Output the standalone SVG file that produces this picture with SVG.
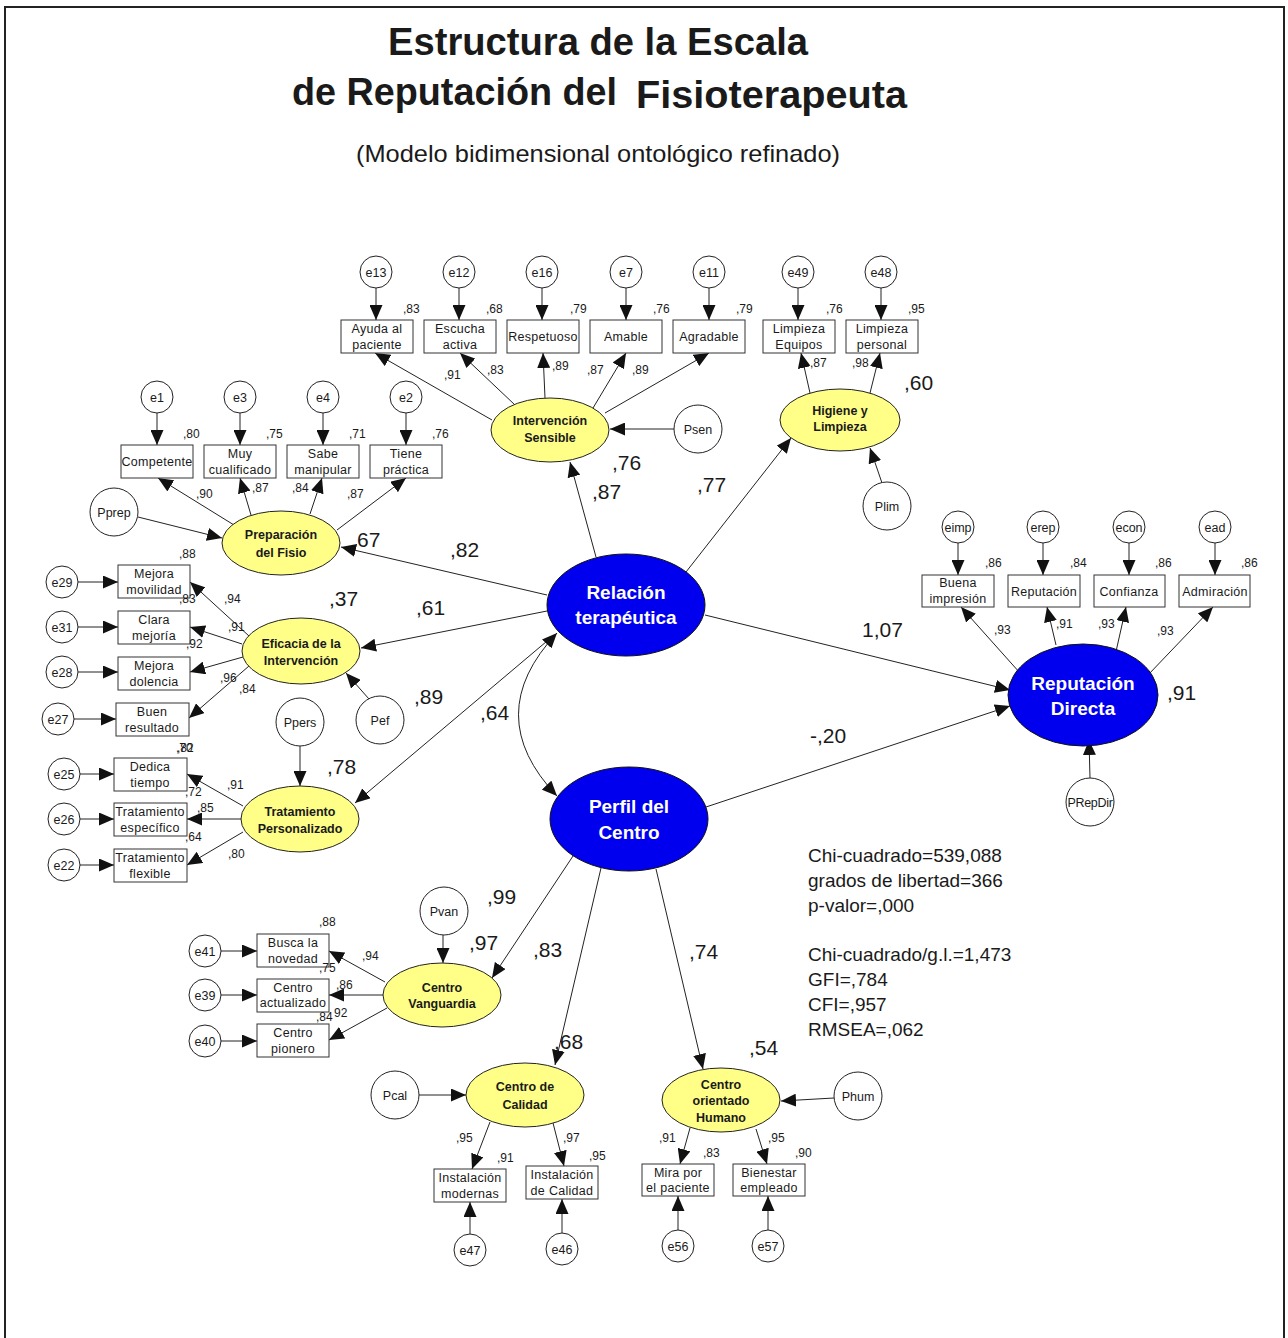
<svg xmlns="http://www.w3.org/2000/svg" width="1288" height="1338" viewBox="0 0 1288 1338">
<style>
  text { font-family: "Liberation Sans", Arial, sans-serif; fill: #1a1a1a; }
  .title { font-size: 38px; font-weight: bold; }
  .sub { font-size: 24px; }
  .box { fill: #fff; stroke: #333; stroke-width: 1; }
  .bt { font-size: 12.5px; text-anchor: middle; letter-spacing: 0.3px; }
  .err { fill: #fff; stroke: #222; stroke-width: 1; }
  .et { font-size: 12.5px; text-anchor: middle; }
  .lat { fill: #ffff88; stroke: #222; stroke-width: 1; }
  .lt { font-size: 12.5px; font-weight: bold; text-anchor: middle; }
  .blue { fill: #0000ee; stroke: #111; stroke-width: 1; }
  .wt { font-size: 19px; font-weight: bold; text-anchor: middle; fill: #fff; }
  .c { font-size: 12px; }
  .big { font-size: 21px; }
  .fit { font-size: 19px; }
  .ln { stroke: #222; stroke-width: 1; fill: none; marker-end: url(#ah); }
</style>
<defs>
  <marker id="ah" markerUnits="userSpaceOnUse" markerWidth="15" markerHeight="13" refX="15" refY="6.5" orient="auto-start-reverse">
    <path d="M0,0 L15,6.5 L0,13 z" fill="#111"/>
  </marker>
</defs>
<rect x="0" y="0" width="1288" height="1338" fill="#fff"/>
<!-- frame -->
<path d="M5,1338 V7 H1284 V1338" fill="none" stroke="#222" stroke-width="2"/>

<!-- headings -->
<text class="title" x="388" y="55" textLength="420" lengthAdjust="spacingAndGlyphs">Estructura de la Escala</text>
<text class="title" x="292" y="105" textLength="325" lengthAdjust="spacingAndGlyphs">de Reputación del</text>
<text class="title" x="636" y="108" textLength="271" lengthAdjust="spacingAndGlyphs">Fisioterapeuta</text>
<text class="sub" x="356" y="162" textLength="484" lengthAdjust="spacingAndGlyphs">(Modelo bidimensional ontológico refinado)</text>

<!-- connectors -->
<g id="connectors">
  <!-- structural paths -->
  <line class="ln" x1="547" y1="595" x2="341" y2="547"/>
  <line class="ln" x1="596" y1="557" x2="570" y2="462"/>
  <line class="ln" x1="686" y1="572" x2="791" y2="438"/>
  <line class="ln" x1="547" y1="611" x2="361" y2="648"/>
  <line class="ln" x1="553" y1="636" x2="355" y2="803"/>
  <line class="ln" x1="705" y1="615" x2="1010" y2="690"/>
  <line class="ln" x1="706" y1="807" x2="1010" y2="706"/>
  <line class="ln" x1="575" y1="853" x2="492" y2="978"/>
  <line class="ln" x1="601" y1="868" x2="555" y2="1065"/>
  <line class="ln" x1="656" y1="869" x2="703" y2="1069"/>
  <path class="ln" d="M557,633 Q480,715 557,796" marker-start="url(#ah)"/>

  <!-- Intervención Sensible -->
  <line class="ln" x1="492" y1="420" x2="375" y2="353"/>
  <line class="ln" x1="515" y1="405" x2="460" y2="353"/>
  <line class="ln" x1="545" y1="398" x2="543" y2="353"/>
  <line class="ln" x1="593" y1="408" x2="626" y2="353"/>
  <line class="ln" x1="605" y1="413" x2="709" y2="353"/>
  <line class="ln" x1="674" y1="429" x2="610" y2="429"/>
  <line class="ln" x1="376" y1="288" x2="376" y2="320"/>
  <line class="ln" x1="459" y1="288" x2="459" y2="320"/>
  <line class="ln" x1="542" y1="288" x2="542" y2="320"/>
  <line class="ln" x1="626" y1="288" x2="626" y2="320"/>
  <line class="ln" x1="709" y1="288" x2="709" y2="320"/>

  <!-- Higiene y Limpieza -->
  <line class="ln" x1="810" y1="393" x2="801" y2="353"/>
  <line class="ln" x1="870" y1="393" x2="880" y2="353"/>
  <line class="ln" x1="882" y1="483" x2="870" y2="448"/>
  <line class="ln" x1="798" y1="288" x2="798" y2="320"/>
  <line class="ln" x1="881" y1="288" x2="881" y2="320"/>

  <!-- Preparación del Fisio -->
  <line class="ln" x1="234" y1="525" x2="158" y2="478"/>
  <line class="ln" x1="251" y1="515" x2="240" y2="478"/>
  <line class="ln" x1="310" y1="514" x2="322" y2="478"/>
  <line class="ln" x1="337" y1="530" x2="406" y2="478"/>
  <line class="ln" x1="138" y1="517" x2="222" y2="538"/>
  <line class="ln" x1="157" y1="413" x2="157" y2="445"/>
  <line class="ln" x1="240" y1="413" x2="240" y2="445"/>
  <line class="ln" x1="323" y1="413" x2="323" y2="445"/>
  <line class="ln" x1="406" y1="413" x2="406" y2="445"/>

  <!-- Eficacia de la Intervención -->
  <line class="ln" x1="249" y1="636" x2="190" y2="582"/>
  <line class="ln" x1="242" y1="644" x2="190" y2="627"/>
  <line class="ln" x1="243" y1="657" x2="190" y2="672"/>
  <line class="ln" x1="249" y1="666" x2="189" y2="718"/>
  <line class="ln" x1="369" y1="699" x2="346" y2="673"/>
  <line class="ln" x1="78" y1="582" x2="118" y2="582"/>
  <line class="ln" x1="78" y1="627" x2="118" y2="627"/>
  <line class="ln" x1="78" y1="672" x2="118" y2="672"/>
  <line class="ln" x1="74" y1="719" x2="116" y2="719"/>

  <!-- Tratamiento Personalizado -->
  <line class="ln" x1="243" y1="806" x2="187" y2="774"/>
  <line class="ln" x1="241" y1="819" x2="187" y2="819"/>
  <line class="ln" x1="243" y1="832" x2="187" y2="865"/>
  <line class="ln" x1="300" y1="746" x2="300" y2="786"/>
  <line class="ln" x1="80" y1="774" x2="114" y2="774"/>
  <line class="ln" x1="80" y1="819" x2="114" y2="819"/>
  <line class="ln" x1="80" y1="865" x2="114" y2="865"/>

  <!-- Centro Vanguardia -->
  <line class="ln" x1="385" y1="982" x2="329" y2="951"/>
  <line class="ln" x1="383" y1="995" x2="329" y2="995"/>
  <line class="ln" x1="387" y1="1008" x2="329" y2="1040"/>
  <line class="ln" x1="443" y1="935" x2="443" y2="963"/>
  <line class="ln" x1="221" y1="951" x2="257" y2="951"/>
  <line class="ln" x1="221" y1="995" x2="257" y2="995"/>
  <line class="ln" x1="221" y1="1041" x2="257" y2="1041"/>

  <!-- Centro de Calidad -->
  <line class="ln" x1="419" y1="1095" x2="466" y2="1095"/>
  <line class="ln" x1="490" y1="1122" x2="472" y2="1169"/>
  <line class="ln" x1="553" y1="1123" x2="564" y2="1166"/>
  <line class="ln" x1="470" y1="1234" x2="470" y2="1202"/>
  <line class="ln" x1="562" y1="1233" x2="562" y2="1199"/>

  <!-- Centro orientado Humano -->
  <line class="ln" x1="834" y1="1098" x2="781" y2="1101"/>
  <line class="ln" x1="690" y1="1128" x2="680" y2="1164"/>
  <line class="ln" x1="756" y1="1129" x2="767" y2="1164"/>
  <line class="ln" x1="678" y1="1230" x2="678" y2="1196"/>
  <line class="ln" x1="768" y1="1230" x2="768" y2="1196"/>

  <!-- Reputación Directa -->
  <line class="ln" x1="1020" y1="673" x2="961" y2="607"/>
  <line class="ln" x1="1056" y1="645" x2="1047" y2="607"/>
  <line class="ln" x1="1115" y1="656" x2="1126" y2="607"/>
  <line class="ln" x1="1148" y1="675" x2="1213" y2="607"/>
  <line class="ln" x1="1090" y1="778" x2="1089" y2="740"/>
  <line class="ln" x1="958" y1="543" x2="958" y2="575"/>
  <line class="ln" x1="1043" y1="543" x2="1043" y2="575"/>
  <line class="ln" x1="1129" y1="543" x2="1129" y2="575"/>
  <line class="ln" x1="1215" y1="543" x2="1215" y2="575"/>
</g>

<!-- Intervención Sensible block -->
<g id="e13"><circle class="err" cx="376" cy="272" r="16"/><text class="et" x="376" y="277">e13</text></g>
<g id="e12"><circle class="err" cx="459" cy="272" r="16"/><text class="et" x="459" y="277">e12</text></g>
<g id="e16"><circle class="err" cx="542" cy="272" r="16"/><text class="et" x="542" y="277">e16</text></g>
<g id="e7"><circle class="err" cx="626" cy="272" r="16"/><text class="et" x="626" y="277">e7</text></g>
<g id="e11"><circle class="err" cx="709" cy="272" r="16"/><text class="et" x="709" y="277">e11</text></g>
<g id="ayuda"><rect class="box" x="341" y="320" width="72" height="33"/><text class="bt" x="377" y="333">Ayuda al</text><text class="bt" x="377" y="349">paciente</text></g>
<g id="escucha"><rect class="box" x="424" y="320" width="72" height="33"/><text class="bt" x="460" y="333">Escucha</text><text class="bt" x="460" y="349">activa</text></g>
<g id="respetuoso"><rect class="box" x="507" y="320" width="72" height="33"/><text class="bt" x="543" y="341" letter-spacing="0">Respetuoso</text></g>
<g id="amable"><rect class="box" x="590" y="320" width="72" height="33"/><text class="bt" x="626" y="341">Amable</text></g>
<g id="agradable"><rect class="box" x="673" y="320" width="72" height="33"/><text class="bt" x="709" y="341">Agradable</text></g>
<g id="intervencion"><ellipse class="lat" cx="550" cy="430" rx="59" ry="32"/><text class="lt" x="550" y="425">Intervención</text><text class="lt" x="550" y="442">Sensible</text></g>
<g id="psen"><circle class="err" cx="698" cy="429" r="24"/><text class="et" x="698" y="434">Psen</text></g>

<!-- Higiene y Limpieza block -->
<g id="e49"><circle class="err" cx="798" cy="272" r="16"/><text class="et" x="798" y="277">e49</text></g>
<g id="e48"><circle class="err" cx="881" cy="272" r="16"/><text class="et" x="881" y="277">e48</text></g>
<g id="limp-equipos"><rect class="box" x="763" y="320" width="72" height="33"/><text class="bt" x="799" y="333">Limpieza</text><text class="bt" x="799" y="349">Equipos</text></g>
<g id="limp-personal"><rect class="box" x="846" y="320" width="72" height="33"/><text class="bt" x="882" y="333">Limpieza</text><text class="bt" x="882" y="349">personal</text></g>
<g id="higiene"><ellipse class="lat" cx="840" cy="420" rx="60" ry="31"/><text class="lt" x="840" y="415">Higiene y</text><text class="lt" x="840" y="431">Limpieza</text></g>
<g id="plim"><circle class="err" cx="887" cy="506" r="24"/><text class="et" x="887" y="511">Plim</text></g>

<!-- Preparación del Fisio block -->
<g id="e1"><circle class="err" cx="157" cy="397" r="16"/><text class="et" x="157" y="402">e1</text></g>
<g id="e3"><circle class="err" cx="240" cy="397" r="16"/><text class="et" x="240" y="402">e3</text></g>
<g id="e4"><circle class="err" cx="323" cy="397" r="16"/><text class="et" x="323" y="402">e4</text></g>
<g id="e2"><circle class="err" cx="406" cy="397" r="16"/><text class="et" x="406" y="402">e2</text></g>
<g id="competente"><rect class="box" x="121" y="445" width="72" height="33"/><text class="bt" x="157" y="466" letter-spacing="0">Competente</text></g>
<g id="cualificado"><rect class="box" x="204" y="445" width="72" height="33"/><text class="bt" x="240" y="458">Muy</text><text class="bt" x="240" y="474" letter-spacing="0">cualificado</text></g>
<g id="manipular"><rect class="box" x="287" y="445" width="72" height="33"/><text class="bt" x="323" y="458">Sabe</text><text class="bt" x="323" y="474">manipular</text></g>
<g id="practica"><rect class="box" x="370" y="445" width="72" height="33"/><text class="bt" x="406" y="458">Tiene</text><text class="bt" x="406" y="474">práctica</text></g>
<g id="preparacion"><ellipse class="lat" cx="281" cy="543" rx="59" ry="32"/><text class="lt" x="281" y="539">Preparación</text><text class="lt" x="281" y="557">del Fisio</text></g>
<g id="pprep"><circle class="err" cx="114" cy="512" r="24"/><text class="et" x="114" y="517">Pprep</text></g>

<!-- Eficacia de la Intervención block -->
<g id="e29"><circle class="err" cx="62" cy="582" r="16"/><text class="et" x="62" y="587">e29</text></g>
<g id="e31"><circle class="err" cx="62" cy="627" r="16"/><text class="et" x="62" y="632">e31</text></g>
<g id="e28"><circle class="err" cx="62" cy="672" r="16"/><text class="et" x="62" y="677">e28</text></g>
<g id="e27"><circle class="err" cx="58" cy="719" r="16"/><text class="et" x="58" y="724">e27</text></g>
<g id="movilidad"><rect class="box" x="118" y="565" width="72" height="33"/><text class="bt" x="154" y="578">Mejora</text><text class="bt" x="154" y="594" letter-spacing="0">movilidad</text></g>
<g id="mejoria"><rect class="box" x="118" y="611" width="72" height="33"/><text class="bt" x="154" y="624">Clara</text><text class="bt" x="154" y="640">mejoría</text></g>
<g id="dolencia"><rect class="box" x="118" y="657" width="72" height="33"/><text class="bt" x="154" y="670">Mejora</text><text class="bt" x="154" y="686">dolencia</text></g>
<g id="resultado"><rect class="box" x="116" y="703" width="73" height="33"/><text class="bt" x="152" y="716">Buen</text><text class="bt" x="152" y="732">resultado</text></g>
<g id="eficacia"><ellipse class="lat" cx="301" cy="651" rx="59" ry="33"/><text class="lt" x="301" y="648">Eficacia de la</text><text class="lt" x="301" y="665">Intervención</text></g>
<g id="pef"><circle class="err" cx="380" cy="720" r="24"/><text class="et" x="380" y="725">Pef</text></g>

<!-- Tratamiento Personalizado block -->
<g id="e25"><circle class="err" cx="64" cy="774" r="16"/><text class="et" x="64" y="779">e25</text></g>
<g id="e26"><circle class="err" cx="64" cy="819" r="16"/><text class="et" x="64" y="824">e26</text></g>
<g id="e22"><circle class="err" cx="64" cy="865" r="16"/><text class="et" x="64" y="870">e22</text></g>
<g id="tiempo"><rect class="box" x="114" y="758" width="73" height="33"/><text class="bt" x="150" y="771">Dedica</text><text class="bt" x="150" y="787">tiempo</text></g>
<g id="especifico"><rect class="box" x="114" y="803" width="73" height="33"/><text class="bt" x="150" y="816" letter-spacing="0">Tratamiento</text><text class="bt" x="150" y="832" letter-spacing="0">específico</text></g>
<g id="flexible"><rect class="box" x="114" y="849" width="73" height="33"/><text class="bt" x="150" y="862" letter-spacing="0">Tratamiento</text><text class="bt" x="150" y="878">flexible</text></g>
<g id="tratamiento"><ellipse class="lat" cx="300" cy="819" rx="59" ry="33"/><text class="lt" x="300" y="816">Tratamiento</text><text class="lt" x="300" y="833">Personalizado</text></g>
<g id="ppers"><circle class="err" cx="300" cy="722" r="24"/><text class="et" x="300" y="727">Ppers</text></g>

<!-- second-order factors -->
<g id="relacion"><ellipse class="blue" cx="626" cy="605" rx="79" ry="51"/><text class="wt" x="626" y="599">Relación</text><text class="wt" x="626" y="624">terapéutica</text></g>
<g id="perfil"><ellipse class="blue" cx="629" cy="819" rx="79" ry="52"/><text class="wt" x="629" y="813">Perfil del</text><text class="wt" x="629" y="839">Centro</text></g>

<!-- Reputación Directa block -->
<g id="eimp"><circle class="err" cx="958" cy="527" r="16"/><text class="et" x="958" y="532">eimp</text></g>
<g id="erep"><circle class="err" cx="1043" cy="527" r="16"/><text class="et" x="1043" y="532">erep</text></g>
<g id="econ"><circle class="err" cx="1129" cy="527" r="16"/><text class="et" x="1129" y="532">econ</text></g>
<g id="ead"><circle class="err" cx="1215" cy="527" r="16"/><text class="et" x="1215" y="532">ead</text></g>
<g id="impresion"><rect class="box" x="922" y="575" width="72" height="32"/><text class="bt" x="958" y="587">Buena</text><text class="bt" x="958" y="603">impresión</text></g>
<g id="reputacion"><rect class="box" x="1008" y="575" width="72" height="32"/><text class="bt" x="1044" y="596" letter-spacing="0">Reputación</text></g>
<g id="confianza"><rect class="box" x="1094" y="575" width="71" height="32"/><text class="bt" x="1129" y="596">Confianza</text></g>
<g id="admiracion"><rect class="box" x="1179" y="575" width="71" height="32"/><text class="bt" x="1215" y="596" letter-spacing="0">Admiración</text></g>
<g id="rep-directa"><ellipse class="blue" cx="1083" cy="695" rx="75" ry="51"/><text class="wt" x="1083" y="690">Reputación</text><text class="wt" x="1083" y="715">Directa</text></g>
<g id="prepdir"><circle class="err" cx="1090" cy="802" r="24"/><text class="et" x="1090" y="807" letter-spacing="-0.3">PRepDir</text></g>

<!-- Centro Vanguardia block -->
<g id="e41"><circle class="err" cx="205" cy="951" r="16"/><text class="et" x="205" y="956">e41</text></g>
<g id="e39"><circle class="err" cx="205" cy="995" r="16"/><text class="et" x="205" y="1000">e39</text></g>
<g id="e40"><circle class="err" cx="205" cy="1041" r="16"/><text class="et" x="205" y="1046">e40</text></g>
<g id="novedad"><rect class="box" x="257" y="934" width="72" height="33"/><text class="bt" x="293" y="947">Busca la</text><text class="bt" x="293" y="963">novedad</text></g>
<g id="actualizado"><rect class="box" x="257" y="979" width="72" height="33"/><text class="bt" x="293" y="992">Centro</text><text class="bt" x="293" y="1007" letter-spacing="0">actualizado</text></g>
<g id="pionero"><rect class="box" x="257" y="1024" width="72" height="33"/><text class="bt" x="293" y="1037">Centro</text><text class="bt" x="293" y="1053">pionero</text></g>
<g id="vanguardia"><ellipse class="lat" cx="442" cy="995" rx="59" ry="32"/><text class="lt" x="442" y="992">Centro</text><text class="lt" x="442" y="1008">Vanguardia</text></g>
<g id="pvan"><circle class="err" cx="444" cy="911" r="24"/><text class="et" x="444" y="916">Pvan</text></g>

<!-- Centro de Calidad block -->
<g id="calidad"><ellipse class="lat" cx="525" cy="1095" rx="59" ry="32"/><text class="lt" x="525" y="1091">Centro de</text><text class="lt" x="525" y="1109">Calidad</text></g>
<g id="pcal"><circle class="err" cx="395" cy="1095" r="24"/><text class="et" x="395" y="1100">Pcal</text></g>
<g id="modernas"><rect class="box" x="434" y="1169" width="72" height="33"/><text class="bt" x="470" y="1182">Instalación</text><text class="bt" x="470" y="1198">modernas</text></g>
<g id="inst-calidad"><rect class="box" x="526" y="1166" width="72" height="33"/><text class="bt" x="562" y="1179">Instalación</text><text class="bt" x="562" y="1195">de Calidad</text></g>
<g id="e47"><circle class="err" cx="470" cy="1250" r="16"/><text class="et" x="470" y="1255">e47</text></g>
<g id="e46"><circle class="err" cx="562" cy="1249" r="16"/><text class="et" x="562" y="1254">e46</text></g>

<!-- Centro orientado Humano block -->
<g id="humano"><ellipse class="lat" cx="721" cy="1100" rx="59" ry="32"/><text class="lt" x="721" y="1089">Centro</text><text class="lt" x="721" y="1105">orientado</text><text class="lt" x="721" y="1122">Humano</text></g>
<g id="phum"><circle class="err" cx="858" cy="1096" r="24"/><text class="et" x="858" y="1101">Phum</text></g>
<g id="mira"><rect class="box" x="642" y="1164" width="72" height="32"/><text class="bt" x="678" y="1177">Mira por</text><text class="bt" x="678" y="1192" letter-spacing="0">el paciente</text></g>
<g id="bienestar"><rect class="box" x="733" y="1164" width="72" height="32"/><text class="bt" x="769" y="1177">Bienestar</text><text class="bt" x="769" y="1192">empleado</text></g>
<g id="e56"><circle class="err" cx="678" cy="1246" r="16"/><text class="et" x="678" y="1251">e56</text></g>
<g id="e57"><circle class="err" cx="768" cy="1246" r="16"/><text class="et" x="768" y="1251">e57</text></g>

<!-- estimates: small -->
<g id="estimates">
  <text class="c" x="403" y="313">,83</text><text class="c" x="486" y="313">,68</text><text class="c" x="570" y="313">,79</text><text class="c" x="653" y="313">,76</text><text class="c" x="736" y="313">,79</text>
  <text class="c" x="444" y="379">,91</text><text class="c" x="487" y="374">,83</text><text class="c" x="552" y="370">,89</text><text class="c" x="587" y="374">,87</text><text class="c" x="632" y="374">,89</text>
  <text class="c" x="826" y="313">,76</text><text class="c" x="908" y="313">,95</text>
  <text class="c" x="810" y="367">,87</text><text class="c" x="852" y="367">,98</text>
  <text class="c" x="183" y="438">,80</text><text class="c" x="266" y="438">,75</text><text class="c" x="349" y="438">,71</text><text class="c" x="432" y="438">,76</text>
  <text class="c" x="196" y="498">,90</text><text class="c" x="252" y="492">,87</text><text class="c" x="292" y="492">,84</text><text class="c" x="347" y="498">,87</text>
  <text class="c" x="179" y="558">,88</text><text class="c" x="179" y="603">,83</text><text class="c" x="224" y="603">,94</text><text class="c" x="228" y="631">,91</text>
  <text class="c" x="186" y="648">,92</text><text class="c" x="220" y="682">,96</text><text class="c" x="239" y="693">,84</text>
  <text class="c" x="176" y="752">,70</text><text class="c" x="177" y="752">,82</text>
  <text class="c" x="227" y="789">,91</text><text class="c" x="185" y="796">,72</text><text class="c" x="197" y="812">,85</text><text class="c" x="185" y="841">,64</text><text class="c" x="228" y="858">,80</text>
  <text class="c" x="985" y="567">,86</text><text class="c" x="1070" y="567">,84</text><text class="c" x="1155" y="567">,86</text><text class="c" x="1241" y="567">,86</text>
  <text class="c" x="994" y="634">,93</text><text class="c" x="1056" y="628">,91</text><text class="c" x="1098" y="628">,93</text><text class="c" x="1157" y="635">,93</text>
  <text class="c" x="319" y="926">,88</text><text class="c" x="362" y="960">,94</text><text class="c" x="319" y="972">,75</text><text class="c" x="336" y="989">,86</text>
  <text class="c" x="316" y="1021">,84</text><text class="c" x="334" y="1017">92</text>
  <text class="c" x="456" y="1142">,95</text><text class="c" x="497" y="1162">,91</text><text class="c" x="563" y="1142">,97</text><text class="c" x="589" y="1160">,95</text>
  <text class="c" x="659" y="1142">,91</text><text class="c" x="703" y="1157">,83</text><text class="c" x="768" y="1142">,95</text><text class="c" x="795" y="1157">,90</text>
</g>

<!-- estimates: large -->
<g id="paths-values">
  <text class="big" x="904" y="390">,60</text>
  <text class="big" x="612" y="470">,76</text>
  <text class="big" x="592" y="499">,87</text>
  <text class="big" x="697" y="492">,77</text>
  <text class="big" x="357" y="547">67</text>
  <text class="big" x="450" y="557">,82</text>
  <text class="big" x="329" y="606">,37</text>
  <text class="big" x="416" y="615">,61</text>
  <text class="big" x="414" y="704">,89</text>
  <text class="big" x="480" y="720">,64</text>
  <text class="big" x="327" y="774">,78</text>
  <text class="big" x="862" y="637">1,07</text>
  <text class="big" x="1167" y="700">,91</text>
  <text class="big" x="810" y="743">-,20</text>
  <text class="big" x="487" y="904">,99</text>
  <text class="big" x="469" y="950">,97</text>
  <text class="big" x="533" y="957">,83</text>
  <text class="big" x="689" y="959">,74</text>
  <text class="big" x="554" y="1049">,68</text>
  <text class="big" x="749" y="1055">,54</text>
</g>

<!-- goodness of fit -->
<g id="fit">
  <text class="fit" x="808" y="862">Chi-cuadrado=539,088</text>
  <text class="fit" x="808" y="887">grados de libertad=366</text>
  <text class="fit" x="808" y="912">p-valor=,000</text>
  <text class="fit" x="808" y="961">Chi-cuadrado/g.l.=1,473</text>
  <text class="fit" x="808" y="986">GFI=,784</text>
  <text class="fit" x="808" y="1011">CFI=,957</text>
  <text class="fit" x="808" y="1036">RMSEA=,062</text>
</g>
</svg>
